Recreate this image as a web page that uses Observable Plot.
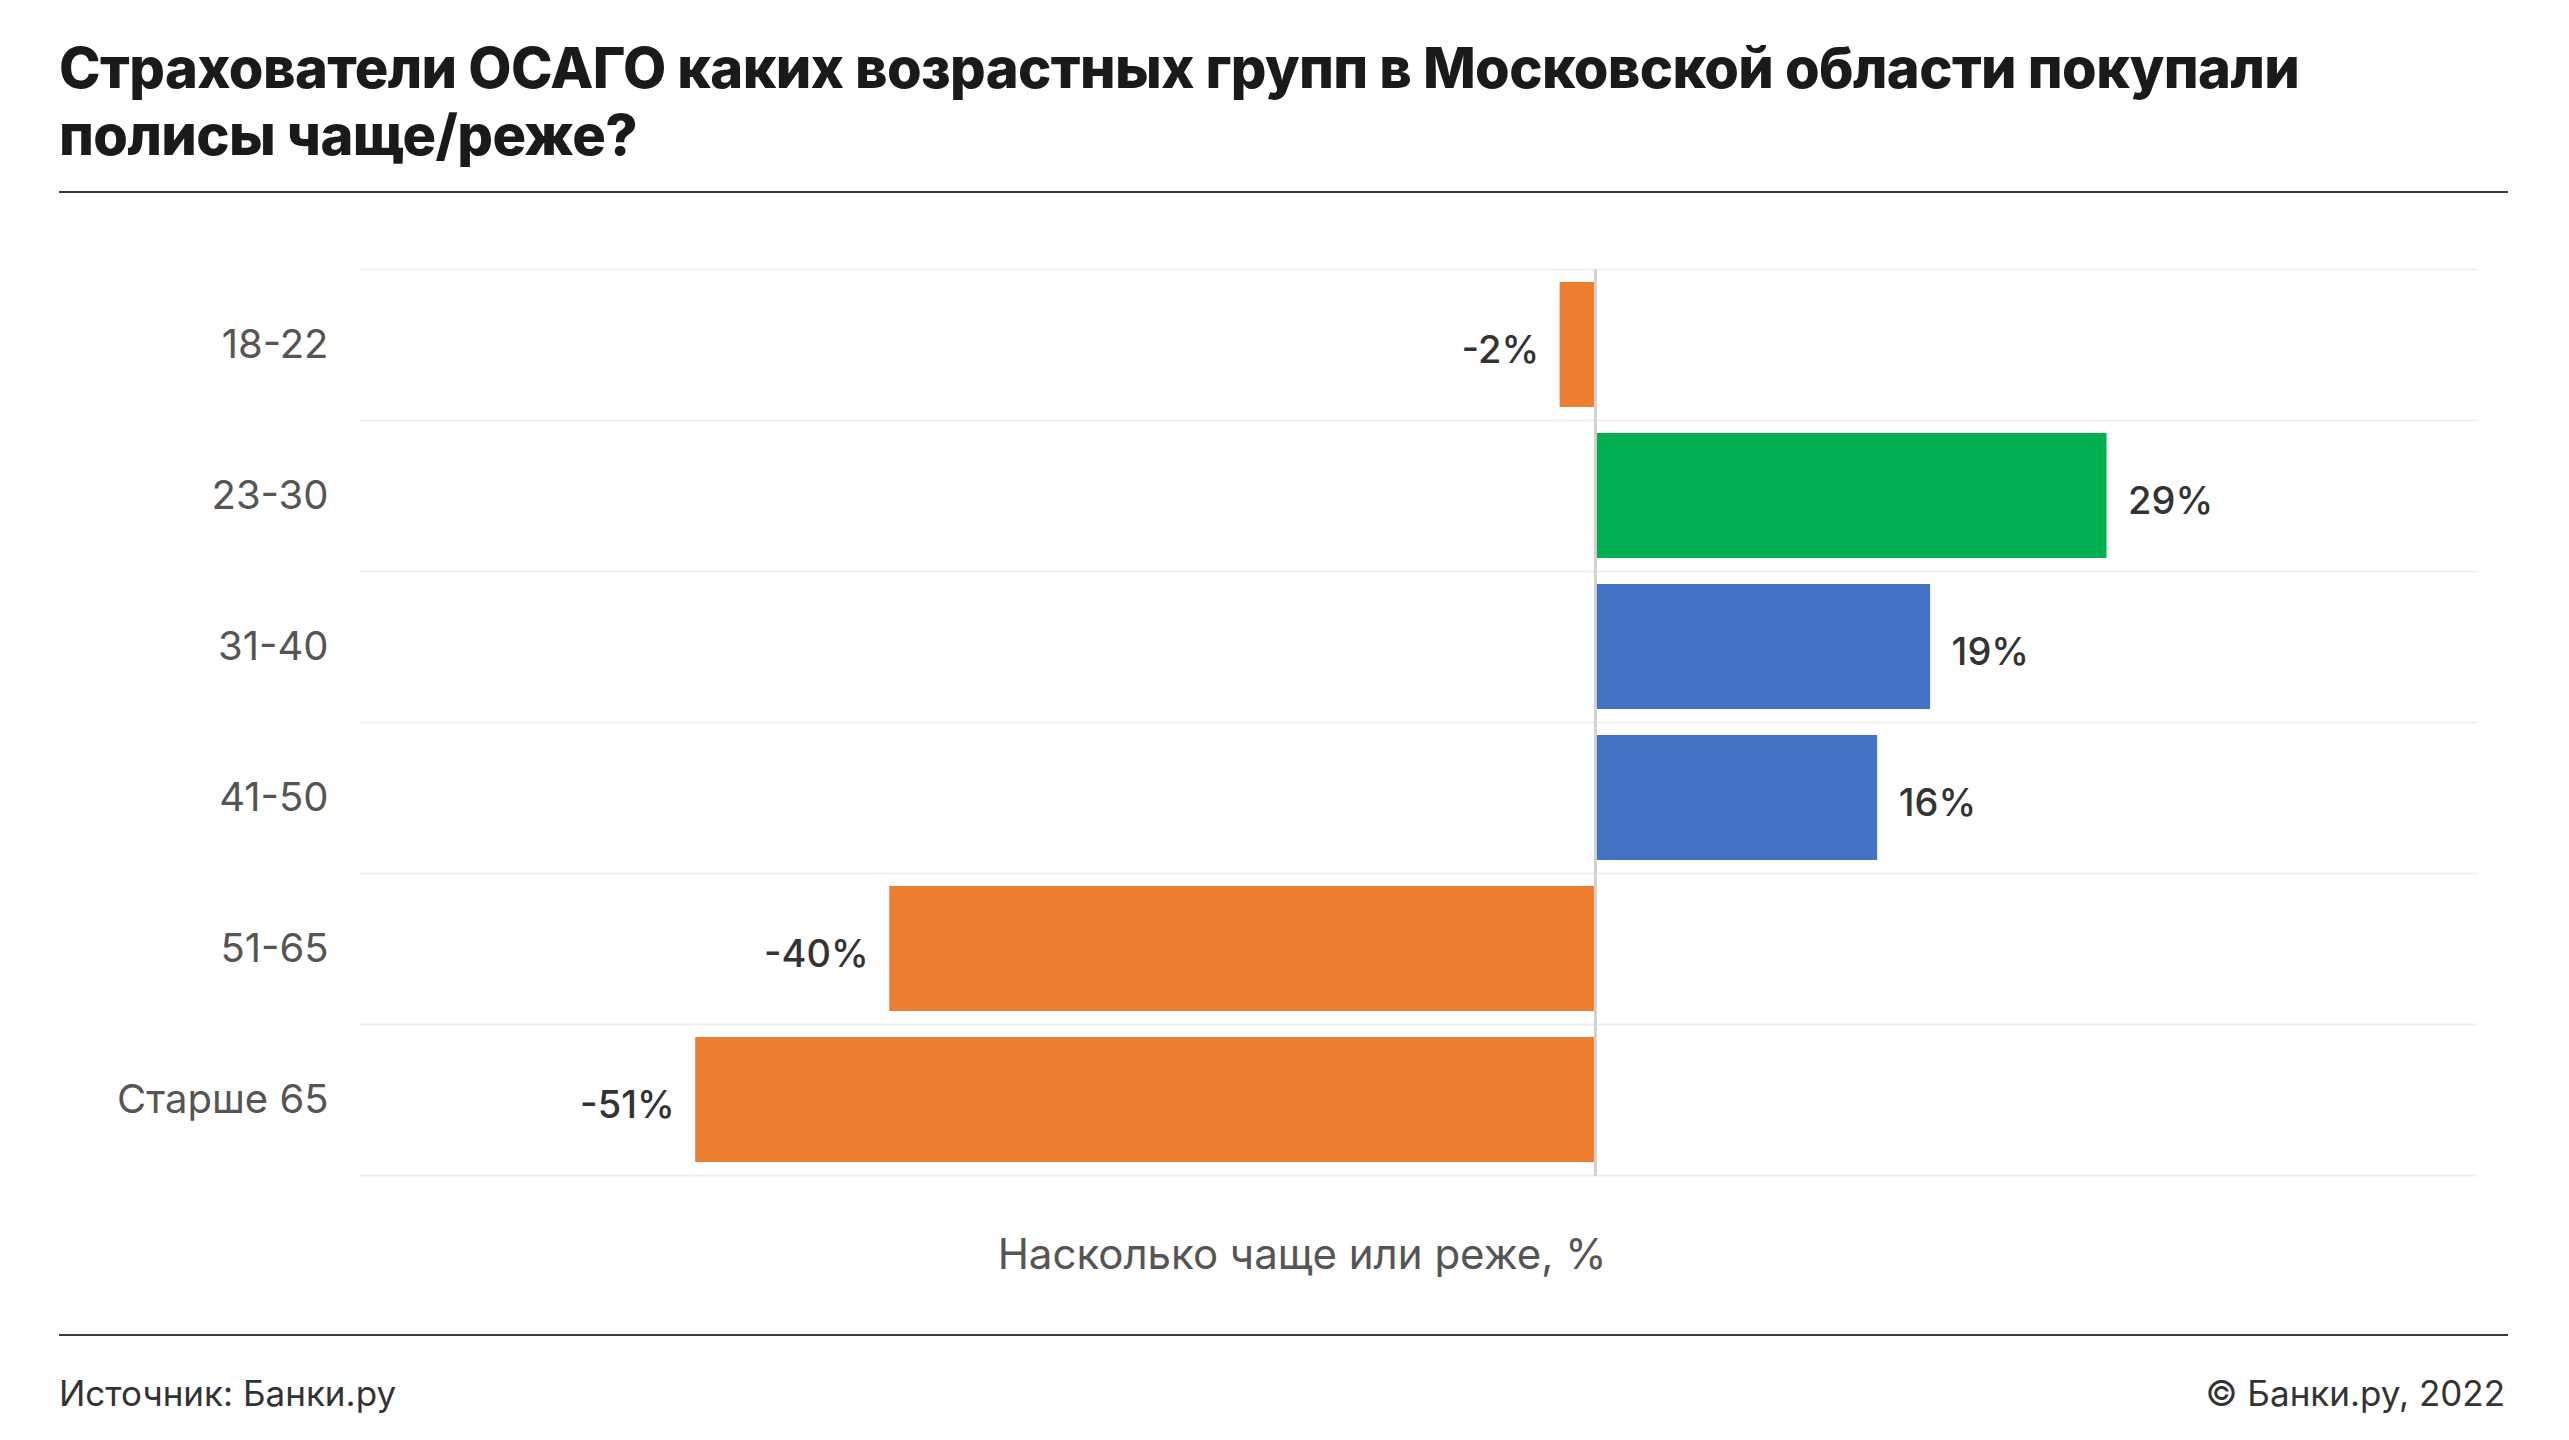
<!DOCTYPE html>
<html>
<head>
<meta charset="utf-8">
<script src="https://cdn.jsdelivr.net/npm/d3@7"></script>
<script src="https://cdn.jsdelivr.net/npm/@observablehq/plot@0.6"></script>
<style>
  html, body { margin: 0; padding: 0; background: #fff; }
  #page { position: relative; width: 2569px; height: 1440px; background: #fff; font-family: Inter, "Noto Sans", sans-serif; overflow: hidden; }
  #title { position: absolute; left: 59px; top: 35px; font-size: 56px; line-height: 67px; font-weight: 800; color: #1a1a1a; letter-spacing: -0.6px; }
  .hr { position: absolute; left: 59px; width: 2449px; height: 2px; background: #3a3a3a; }
  #chart { position: absolute; left: 0; top: 200px; }
  .foot { position: absolute; top: 1372px; font-size: 35px; line-height: 42px; color: #333; }
</style>
</head>
<body>
<div id="page">
  <div id="title"></div>
  <div class="hr" style="top:191px"></div>
  <div id="chart"></div>
  <div class="hr" style="top:1334px"></div>
  <div class="foot" id="src" style="left:59px"></div>
  <div class="foot" id="copy" style="right:64px; text-align:right"></div>
</div>
<script>
const titleLines = ["Страхователи ОСАГО каких возрастных групп в Московской области покупали", "полисы чаще/реже?"];
const categories = ["18-22", "23-30", "31-40", "41-50", "51-65", "Старше 65"];
const values = [-2, 29, 19, 16, -40, -51];
const valueLabels = ["-2%", "29%", "19%", "16%", "-40%", "-51%"];
const barColors = ["#ED7D31", "#00B050", "#4472C4", "#4472C4", "#ED7D31", "#ED7D31"];
const xDomain = [-70, 50];
const xLabel = "Насколько чаще или реже, %";
const sourceText = "Источник: Банки.ру";
const copyText = "© Банки.ру, 2022";

document.getElementById("title").innerHTML = titleLines.join("<br>");
document.getElementById("src").textContent = sourceText;
document.getElementById("copy").textContent = copyText;

const data = categories.map((c, i) => ({category: c, value: values[i], label: valueLabels[i], color: barColors[i]}));

const W = 2569, H = 1120, mT = 69, mB = 144, mL = 360, mR = 92;
const step = (H - mT - mB) / categories.length;

const chart = Plot.plot({
  width: W,
  height: H,
  marginTop: mT,
  marginBottom: mB,
  marginLeft: mL,
  marginRight: mR,
  style: {fontFamily: "Inter, 'Noto Sans', sans-serif", fontSize: "38px", background: "transparent", overflow: "visible"},
  x: {domain: xDomain, axis: null},
  y: {domain: categories, paddingInner: 0.17, paddingOuter: 0.085, axis: null},
  color: {type: "identity"},
  marks: [
    Plot.ruleY(categories, {y: d => d, dy: -step / 2, stroke: "#efefef", strokeWidth: 2}),
    Plot.ruleY(categories.slice(-1), {y: d => d, dy: step / 2, stroke: "#efefef", strokeWidth: 2}),
    Plot.barX(data, {x: "value", y: "category", fill: "color"}),
    Plot.ruleX([0], {stroke: "#d2d2d2", strokeWidth: 3}),
    Plot.text(data, {filter: d => d.value >= 0, x: "value", y: "category", text: "label", textAnchor: "start", dx: 21, dy: 6, fill: "#333", fontSize: 38, fontWeight: 500}),
    Plot.text(data, {filter: d => d.value < 0, x: "value", y: "category", text: "label", textAnchor: "end", dx: -21, dy: 6, fill: "#333", fontSize: 38, fontWeight: 500}),
    Plot.axisY({tickSize: 0, tickPadding: 32, fontSize: 40, color: "#555", label: null}),
    Plot.text([xLabel], {frameAnchor: "bottom", dx: -117, dy: 92, fill: "#555", fontSize: 42})
  ]
});
document.getElementById("chart").appendChild(chart);
</script>
</body>
</html>
